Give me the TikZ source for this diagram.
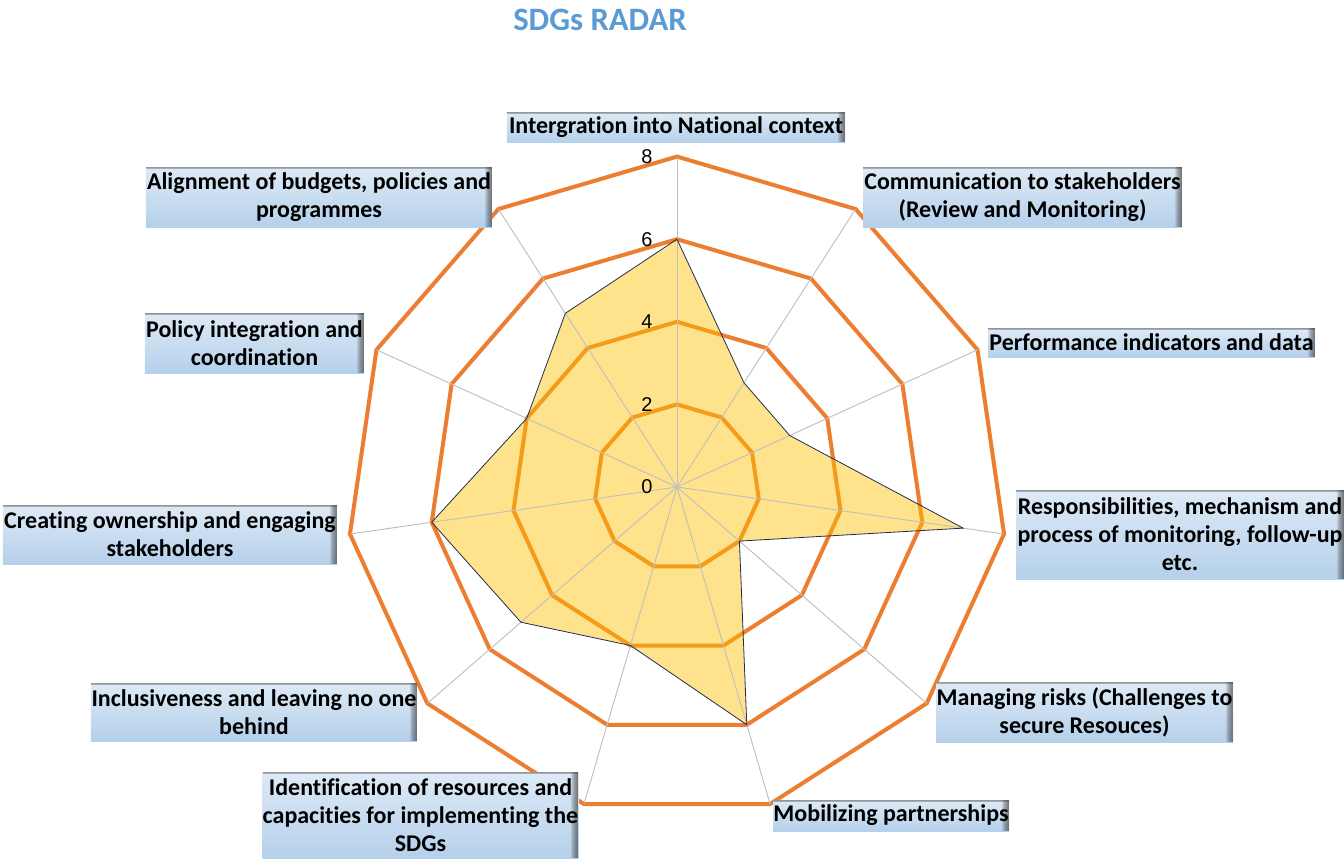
\documentclass[tikz,border=0pt]{standalone}
\usepackage{fontspec}
\setmainfont{Carlito}[Ligatures={NoCommon,NoContextual}]
\newfontfamily\axisfont{Liberation Sans}
\definecolor{ringdark}{HTML}{ED7D31}
\definecolor{areafill}{HTML}{FFC000}
\definecolor{areaedge}{HTML}{1F2D50}
\definecolor{spokegray}{HTML}{BFBFBF}
\definecolor{titleblue}{HTML}{5B9BD5}
\definecolor{boxtop}{HTML}{DEEAF6}
\definecolor{boxbot}{HTML}{B5D0EB}
\colorlet{boxedge}{black!75}
\def\rstep{41.3}
\tikzset{
	ring/.style={line width=3pt,line join=miter,draw=ringdark},
	spoke/.style={draw=spokegray,line width=0.7pt},
	area/.style={fill=areafill,fill opacity=0.45},
	arealine/.style={draw=areaedge,line width=0.6pt,line join=miter},
	tick/.style={font=\axisfont\fontsize{15}{15}\selectfont,inner sep=0pt},
	title/.style={font=\bfseries\fontsize{24.5}{24.5}\selectfont,text=titleblue,inner sep=0pt},
	lbl/.style={font=\bfseries\fontsize{18}{21}\selectfont,align=center,inner sep=0pt,
		top color=boxtop,bottom color=boxbot,
		path picture={
			\foreach \w in {0.8,1.6,...,6.4}
				\fill[boxedge,fill opacity=0.13] ([xshift=-\w pt]path picture bounding box.north east) rectangle (path picture bounding box.south east);
			\foreach \h in {0.6,1.2,1.8}
				\fill[boxedge,fill opacity=0.2] ([yshift=-\h pt]path picture bounding box.north west) rectangle (path picture bounding box.north east);
		}},
}

\begin{document}
\begin{tikzpicture}[x=0.75pt,y=0.75pt]
\useasboundingbox (-677,-371) rectangle (667,487);
\coordinate (o) at (0,0);

% grid rings
\foreach \r in {2,4,6,8}
  \draw[ring] (90:{\r*\rstep}) \foreach \k in {1,...,10} { -- ({90-\k*360/11}:{\r*\rstep}) } -- cycle;

% data
\foreach \v [count=\k from 0] in {6,3,3,7,2,6,4,5,6,4,5}
  \coordinate (d\k) at ({90-\k*360/11}:{\v*\rstep});
\fill[area] (d0) -- (d1) -- (d2) -- (d3) -- (d4) -- (d5) -- (d6) -- (d7) -- (d8) -- (d9) -- (d10) -- cycle;

\foreach \k in {0,...,10}
  \draw[spoke] (o) -- ({90-\k*360/11}:{8*\rstep});

\draw[arealine] (d0) -- (d1) -- (d2) -- (d3) -- (d4) -- (d5) -- (d6) -- (d7) -- (d8) -- (d9) -- (d10) -- cycle;

\foreach \v in {0,2,4,6,8}
  \node (t\v) at (-30,{\v*\rstep}) [tick] {\v};

\node (head) at (-77,467) [title] {SDGs RADAR};

\node (l1) at (-1,360) [lbl,minimum width=253.5pt,minimum height=22.5pt] {Intergration into National context};
\node (l2) at (345.5,290) [lbl,minimum width=239.25pt,minimum height=45pt] {Communication to stakeholders\\(Review and Monitoring)};
\node (l3) at (474.5,144.5) [lbl,minimum width=245.25pt,minimum height=21.75pt] {Performance indicators and data};
\node (l4) at (503,-47.5) [lbl,minimum width=246pt,minimum height=66.75pt] {Responsibilities, mechanism and\\process of monitoring, follow-up\\etc.};
\node (l5) at (407.5,-225) [lbl,minimum width=222.75pt,minimum height=45pt] {Managing risks (Challenges to\\secure Resouces)};
\node (l6) at (214,-328.5) [lbl,minimum width=177pt,minimum height=23.25pt] {Mobilizing partnerships};
\node (l7) at (-256.5,-328) [lbl,minimum width=236.25pt,minimum height=64.5pt] {Identification of resources and\\capacities for implementing the\\SDGs};
\node (l8) at (-423,-225) [lbl,minimum width=244.5pt,minimum height=43.5pt] {Inclusiveness and leaving no one\\behind};
\node (l9) at (-507,-47.5) [lbl,minimum width=250.5pt,minimum height=44.25pt] {Creating ownership and engaging\\stakeholders};
\node (l10) at (-422.5,144) [lbl,minimum width=164.25pt,minimum height=45pt] {Policy integration and\\coordination};
\node (l11) at (-358,290) [lbl,minimum width=259.5pt,minimum height=45pt] {Alignment of budgets, policies and\\programmes};
\end{tikzpicture}
\end{document}
